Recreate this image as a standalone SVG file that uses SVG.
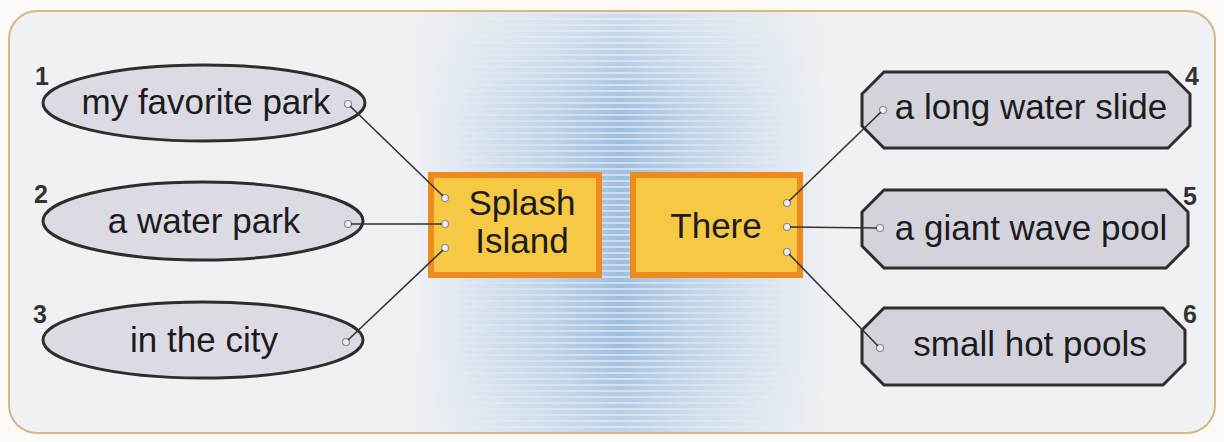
<svg xmlns="http://www.w3.org/2000/svg" width="1224" height="442" viewBox="0 0 1224 442">
<style>
.txt{font-family:"Liberation Sans",Arial,sans-serif;font-size:35px;fill:#1c1c1e;text-anchor:middle}
.num{font-family:"Liberation Sans",Arial,sans-serif;font-size:25px;font-weight:bold;fill:#333}
.ell{fill:#dcdbe4;stroke:#2e2e30;stroke-width:3}
.oct{fill:#d4d3dc;stroke:#2e2e30;stroke-width:3}
.box{fill:#f6c843;stroke:#ef8a1e;stroke-width:6}
.dot{fill:#efeff2;stroke:#8a8a90;stroke-width:1.2}
.con{stroke:#333;stroke-width:1.6;fill:none}
</style>
<defs>
<linearGradient id="band" x1="0" y1="0" x2="1" y2="0">
<stop offset="0" stop-color="#a8c4e2" stop-opacity="0"/>
<stop offset="0.3" stop-color="#a8c4e2" stop-opacity="0.6"/>
<stop offset="0.5" stop-color="#9cbbdf" stop-opacity="0.95"/>
<stop offset="0.7" stop-color="#a8c4e2" stop-opacity="0.6"/>
<stop offset="1" stop-color="#a8c4e2" stop-opacity="0"/>
</linearGradient>
<linearGradient id="maskgrad" x1="0" y1="0" x2="1" y2="0">
<stop offset="0" stop-color="#000"/>
<stop offset="0.3" stop-color="#999"/>
<stop offset="0.5" stop-color="#fff"/>
<stop offset="0.7" stop-color="#999"/>
<stop offset="1" stop-color="#000"/>
</linearGradient>
<mask id="stripemask"><rect x="415" y="11" width="410" height="422" fill="url(#maskgrad)"/></mask>
<linearGradient id="vfade" x1="0" y1="0" x2="0" y2="1">
<stop offset="0" stop-color="#eff1f4" stop-opacity="0.6"/>
<stop offset="0.25" stop-color="#eff1f4" stop-opacity="0"/>
<stop offset="0.8" stop-color="#eff1f4" stop-opacity="0"/>
<stop offset="1" stop-color="#eff1f4" stop-opacity="0.4"/>
</linearGradient>
<pattern id="stripes" width="8" height="6" patternUnits="userSpaceOnUse">
<rect x="0" y="0" width="8" height="2" fill="#ffffff" fill-opacity="0.5"/>
</pattern>
<clipPath id="frameclip"><rect x="9" y="11" width="1206" height="422" rx="28"/></clipPath>
</defs>
<rect width="1224" height="442" fill="#fbfaf7"/>
<rect x="9" y="11" width="1206" height="422" rx="28" fill="#eff1f4"/>
<g clip-path="url(#frameclip)">
<rect x="415" y="11" width="410" height="422" fill="url(#band)"/>
<rect x="415" y="11" width="410" height="422" fill="url(#stripes)" mask="url(#stripemask)"/>
<rect x="415" y="11" width="410" height="422" fill="url(#vfade)"/>
</g>
<rect x="9" y="11" width="1206" height="422" rx="28" fill="none" stroke="#d6b785" stroke-width="2"/>

<g id="n1">
<ellipse class="ell" cx="204" cy="103" rx="161" ry="38"/>
<text class="txt" x="206" y="114">my favorite park</text>
<text class="num" x="35" y="85">1</text>
<circle class="dot" cx="348" cy="104" r="3.5"/>
</g>
<g id="n2">
<ellipse class="ell" cx="203" cy="221" rx="160" ry="39"/>
<text class="txt" x="204" y="233">a water park</text>
<text class="num" x="34" y="203">2</text>
<circle class="dot" cx="348" cy="224" r="3.5"/>
</g>
<g id="n3">
<ellipse class="ell" cx="203" cy="340" rx="160" ry="38"/>
<text class="txt" x="204" y="352">in the city</text>
<text class="num" x="33" y="323">3</text>
<circle class="dot" cx="346" cy="342" r="3.5"/>
</g>

<g id="splash">
<rect class="box" x="431" y="175" width="168" height="100"/>
<text class="txt" x="522" y="215">Splash</text>
<text class="txt" x="522" y="253">Island</text>
<circle class="dot" cx="445" cy="198" r="3.5"/>
<circle class="dot" cx="445" cy="224" r="3.5"/>
<circle class="dot" cx="445" cy="248" r="3.5"/>
</g>
<g id="there">
<rect class="box" x="633" y="175" width="167" height="100"/>
<text class="txt" x="716" y="238">There</text>
<circle class="dot" cx="787" cy="203" r="3.5"/>
<circle class="dot" cx="787" cy="227" r="3.5"/>
<circle class="dot" cx="787" cy="252" r="3.5"/>
</g>

<g id="n4">
<polygon class="oct" points="884,72 1168,72 1190,94 1190,126 1168,148 884,148 862,126 862,94"/>
<text class="txt" x="1031" y="119">a long water slide</text>
<text class="num" x="1185" y="85">4</text>
<circle class="dot" cx="883" cy="110" r="3.5"/>
</g>
<g id="n5">
<polygon class="oct" points="884,190 1166,190 1188,212 1188,246 1166,268 884,268 862,246 862,212"/>
<text class="txt" x="1031" y="240">a giant wave pool</text>
<text class="num" x="1183" y="205">5</text>
<circle class="dot" cx="880" cy="228" r="3.5"/>
</g>
<g id="n6">
<polygon class="oct" points="884,308 1163,308 1185,330 1185,363 1163,385 884,385 862,363 862,330"/>
<text class="txt" x="1030" y="356">small hot pools</text>
<text class="num" x="1183" y="323">6</text>
<circle class="dot" cx="880" cy="348" r="3.5"/>
</g>

<g id="connectors">
<line class="con" x1="350" y1="106" x2="443" y2="196"/>
<line class="con" x1="351" y1="224" x2="442" y2="224"/>
<line class="con" x1="348" y1="340" x2="443" y2="250"/>
<line class="con" x1="789" y1="201" x2="881" y2="112"/>
<line class="con" x1="790" y1="227" x2="877" y2="228"/>
<line class="con" x1="789" y1="254" x2="878" y2="346"/>
</g>
</svg>
